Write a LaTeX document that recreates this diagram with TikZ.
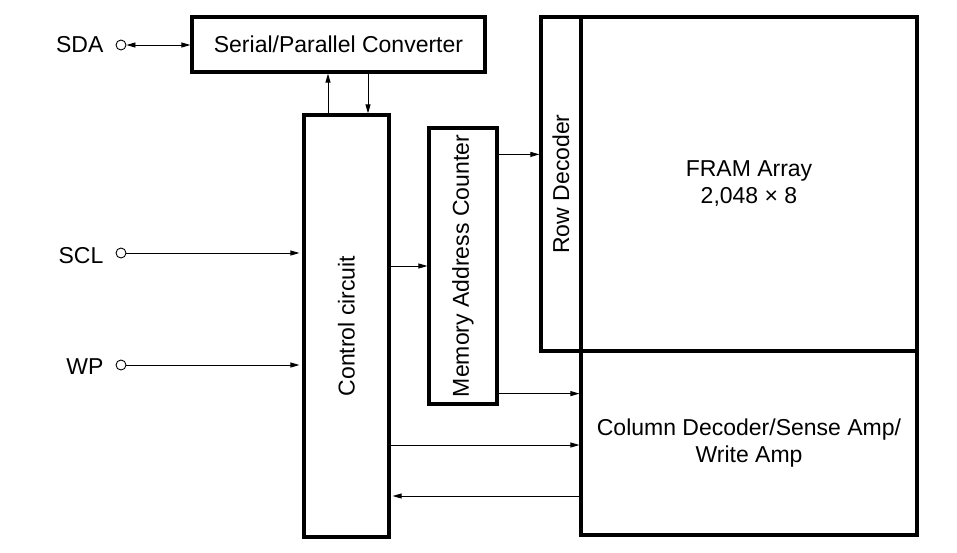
\documentclass[tikz,border=0pt]{standalone}
\usepackage{fontspec}
\setmainfont{Liberation Sans}
\usetikzlibrary{arrows.meta, positioning}

\begin{document}
\begin{tikzpicture}[x=1pt, y=-1pt,
        box/.style={draw, line width=3.2pt, rectangle, inner sep=0pt, align=center},
        pin/.style={draw, circle, line width=0.9pt, minimum size=10pt, inner sep=0pt},
        sig/.style={line width=0.9pt, -{Triangle[length=9pt,width=5pt]}}]
        \fontsize{23}{27}\selectfont
        \useasboundingbox (0,0) rectangle (957,552);
        \node (conv) at (338.5,44.5) [box, minimum width=293pt, minimum height=55pt] {Serial/Parallel Converter};
        \node (ctrl) at (346.5,326) [box, minimum width=85pt, minimum height=422pt] {\rotatebox{90}{Control circuit}};
        \node (mac) at (463,266) [box, minimum width=68pt, minimum height=276pt] {\rotatebox{90}{Memory Address Counter}};
        \node (rowdec) at (561,184) [box, minimum width=40pt, minimum height=334pt] {\rotatebox{90}{Row Decoder}};
        \node (fram) at (749,184) [box, minimum width=336pt, minimum height=334pt] {FRAM Array\\2,048 × 8};
        \node (coldec) at (749,443) [box, minimum width=336pt, minimum height=184pt] {Column Decoder/Sense Amp/\\Write Amp};

        \node (sda) at (121,45) [pin] {};
        \node (scl) at (121,253) [pin] {};
        \node (wp) at (121,365) [pin] {};
        \node (sdalabel) [left=12pt of sda, inner sep=0pt] {SDA};
        \node (scllabel) [left=12pt of scl, inner sep=0pt, yshift=-3pt] {SCL};
        \node (wplabel) [left=12pt of wp, inner sep=0pt, yshift=-2pt] {WP};

        \draw [line width=0.9pt, {Triangle[length=9pt,width=5pt]}-{Triangle[length=9pt,width=5pt]}] (sda) -- (sda -| conv.west);
        \draw [sig] ([xshift=-18.5pt]ctrl.north) -- ([xshift=-18.5pt]ctrl.north |- conv.south);
        \draw [sig] ([xshift=21.5pt]conv.south -| ctrl.north) -- ([xshift=21.5pt]ctrl.north);
        \draw [sig, shorten >=3pt] (scl) -- (scl -| ctrl.west);
        \draw [sig, shorten >=3pt] (wp) -- (wp -| ctrl.west);
        \draw [sig] (ctrl.east |- mac.west) -- (mac.west);
        \draw [sig] ([yshift=-28pt]mac.north east) -- ([yshift=-28pt]mac.north east -| rowdec.west);
        \draw [sig] ([yshift=12pt]mac.south east) -- ([yshift=12pt]mac.south east -| coldec.west);
        \draw [sig] ([yshift=-2pt]coldec.west -| ctrl.east) -- ([yshift=-2pt]coldec.west);
        \draw [sig, shorten >=2pt] ([yshift=-53pt]coldec.west) -- ([yshift=-53pt]coldec.west -| ctrl.east);
    \end{tikzpicture}
\end{document}
